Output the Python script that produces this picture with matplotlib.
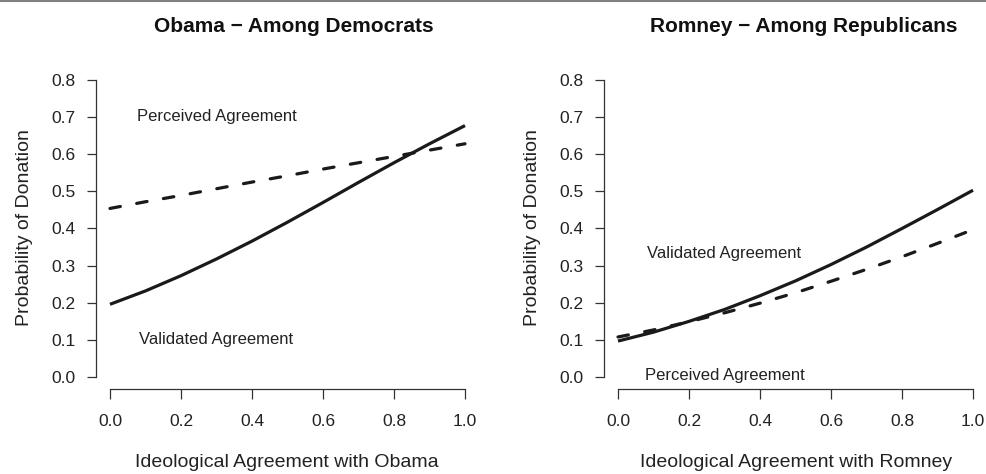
import matplotlib
matplotlib.use("Agg")
import matplotlib.pyplot as plt
from matplotlib.lines import Line2D

plt.rcParams['font.family'] = ['Liberation Sans', 'DejaVu Sans']

# ---- data ----
x_vals = [0.0, 0.1, 0.2, 0.3, 0.4, 0.5, 0.6, 0.7, 0.8, 0.9, 1.0]
obama_validated = [0.196, 0.232, 0.273, 0.318, 0.366, 0.417, 0.470, 0.524, 0.577, 0.628, 0.677]
obama_perceived = [0.454, 0.472, 0.489, 0.507, 0.525, 0.542, 0.560, 0.577, 0.594, 0.611, 0.628]
romney_validated = [0.097, 0.121, 0.150, 0.182, 0.219, 0.259, 0.303, 0.350, 0.400, 0.451, 0.503]
romney_perceived = [0.108, 0.127, 0.149, 0.173, 0.199, 0.227, 0.258, 0.290, 0.324, 0.360, 0.397]
x_ticks = [0.0, 0.2, 0.4, 0.6, 0.8, 1.0]
y_ticks = [0.0, 0.1, 0.2, 0.3, 0.4, 0.5, 0.6, 0.7, 0.8]

panels = [
    dict(title="Obama \u2212 Among Democrats", xlabel="Ideological Agreement with Obama",
         solid=obama_validated, dashed=obama_perceived,
         notes=[("Perceived Agreement", 0.30, 0.688), ("Validated Agreement", 0.30, 0.090)],
         left=95.8, title_cx=294, xlabel_cx=287, ylabel_cx=25),
    dict(title="Romney \u2212 Among Republicans", xlabel="Ideological Agreement with Romney",
         solid=romney_validated, dashed=romney_perceived,
         notes=[("Validated Agreement", 0.30, 0.321), ("Perceived Agreement", 0.30, -0.009)],
         left=603.8, title_cx=804, xlabel_cx=796, ylabel_cx=533),
]

W, H = 987, 474
fig = plt.figure(figsize=(W / 100, H / 100), dpi=100)

# top gray rule
fig.add_artist(Line2D([0, 1], [1 - 0.5 / H, 1 - 0.5 / H], transform=fig.transFigure,
                      color="#808080", lw=1.5))

axis_col = "#333333"
txt_col = "#222222"
for p in panels:
    lpx = p["left"]
    ax = fig.add_axes([lpx / W, 1 - 389 / H, 383.4 / W, (389 - 68) / H])
    ax.plot(x_vals, p["solid"], color="#1a1a1a", lw=2.3, solid_capstyle="butt")
    ax.plot(x_vals, p["dashed"], color="#1a1a1a", lw=2.3, dashes=(3.3, 5.2),
            dash_capstyle="round")
    ax.set_xlim(-0.04, 1.04)
    ax.set_ylim(-0.032, 0.832)
    for s in ["top", "right"]:
        ax.spines[s].set_visible(False)
    for s in ["left", "bottom"]:
        ax.spines[s].set_color(axis_col)
        ax.spines[s].set_linewidth(0.9)
    ax.spines["left"].set_bounds(0, 0.8)
    ax.spines["bottom"].set_bounds(0, 1)
    ax.set_xticks(x_ticks)
    ax.set_xticklabels([f"{v:.1f}" for v in x_ticks])
    ax.set_yticks(y_ticks)
    ax.set_yticklabels([f"{v:.1f}" for v in y_ticks])
    ax.tick_params(length=9.5 * 0.72, width=0.9, color=axis_col, labelcolor=txt_col,
                   labelsize=12.5)
    ax.tick_params(axis="x", pad=11.5)
    ax.tick_params(axis="y", pad=7.5)
    for txt, tx, ty in p["notes"]:
        ax.text(tx, ty, txt, ha="center", va="baseline", fontsize=12, color=txt_col)
    fig.text(p["title_cx"] / W, 1 - 32.3 / H, p["title"], ha="center", va="baseline",
             fontsize=15, fontweight="bold", color="#111111")
    fig.text(p["xlabel_cx"] / W, 1 - 467 / H, p["xlabel"], ha="center",
             va="baseline", fontsize=14, color=txt_col)
    fig.text(p["ylabel_cx"] / W, 1 - 228 / H, "Probability of Donation", ha="center",
             va="center", rotation=90, fontsize=14, color=txt_col)

fig.savefig("out.png", dpi=100)
